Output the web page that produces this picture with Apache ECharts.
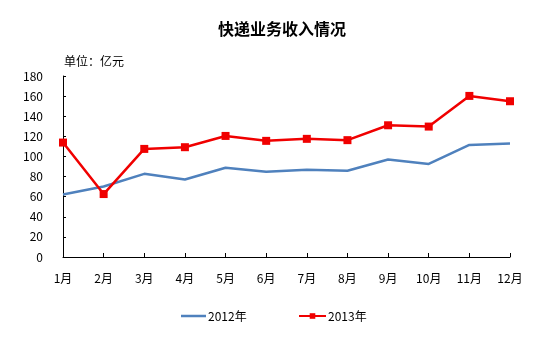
<!DOCTYPE html>
<html>
<head>
<meta charset="utf-8">
<script src="https://cdn.jsdelivr.net/npm/echarts@6/dist/echarts.min.js"></script>
<style>
html,body{margin:0;padding:0;background:#fff;}
#c{width:546px;height:358px;}
</style>
</head>
<body>
<div id="c"></div>
<script>
var categories = ['1月','2月','3月','4月','5月','6月','7月','8月','9月','10月','11月','12月'];
var seriesNames = ['2012年','2013年'];
var values2012 = [62.2, 70.1, 82.7, 77.0, 88.7, 84.7, 86.7, 85.7, 96.9, 92.6, 111.5, 112.8];
var values2013 = [113.8, 62.6, 107.5, 109.2, 120.4, 115.5, 117.5, 116.2, 131.0, 129.7, 160.2, 154.9];
var titleText = '快递业务收入情况';
var unitText = '单位：亿元';

var FONT = '"Noto Sans CJK SC", "DejaVu Sans", sans-serif';
var legendText = {fontFamily: FONT, fontSize: 12, color: '#000', padding: [0,0,0,-3]};
var chart = echarts.init(document.getElementById('c'), null, {renderer:'canvas'});
chart.setOption({
  backgroundColor: '#fff',
  animation: false,
  title: [
    {text: titleText, left: 277, top: 16, textAlign: 'center',
     textStyle: {fontFamily: FONT, fontSize: 16, fontWeight: 'bold', color: '#000'}},
    {text: unitText, left: 59, top: 50,
     textStyle: {fontFamily: FONT, fontSize: 12, fontWeight: 'normal', color: '#000'}}
  ],
  legend: [
    {data: [seriesNames[0]], left: 176, top: 305, icon: 'rect',
     itemWidth: 25, itemHeight: 2.5, textStyle: legendText},
    {data: [seriesNames[1]], left: 293, top: 305,
     itemWidth: 27, itemHeight: 7, textStyle: legendText}
  ],
  grid: {left: 63, right: 36, top: 76, bottom: 101, containLabel: false},
  xAxis: {
    type: 'category', data: categories, boundaryGap: false,
    axisLine: {lineStyle: {color: '#000', width: 1}},
    axisTick: {inside: true, length: 4, lineStyle: {color: '#000'}},
    axisLabel: {fontFamily: FONT, fontSize: 12, color: '#000', margin: 15},
    splitLine: {show: false}
  },
  yAxis: {
    type: 'value', min: 0, max: 180, interval: 20,
    axisLine: {show: true, lineStyle: {color: '#000', width: 1}},
    axisTick: {show: true, inside: true, length: 3, lineStyle: {color: '#000'}},
    axisLabel: {fontFamily: FONT, fontSize: 12, color: '#000', margin: 20},
    splitLine: {show: false}
  },
  series: [
    {name: seriesNames[0], type: 'line', data: values2012, symbol: 'none',
     lineStyle: {color: '#4F81BD', width: 2.5}, itemStyle: {color: '#4F81BD'}},
    {name: seriesNames[1], type: 'line', data: values2013, symbol: 'rect', symbolSize: 8,
     lineStyle: {color: '#F00000', width: 2.5}, itemStyle: {color: '#F00000'}}
  ]
});
</script>
</body>
</html>
